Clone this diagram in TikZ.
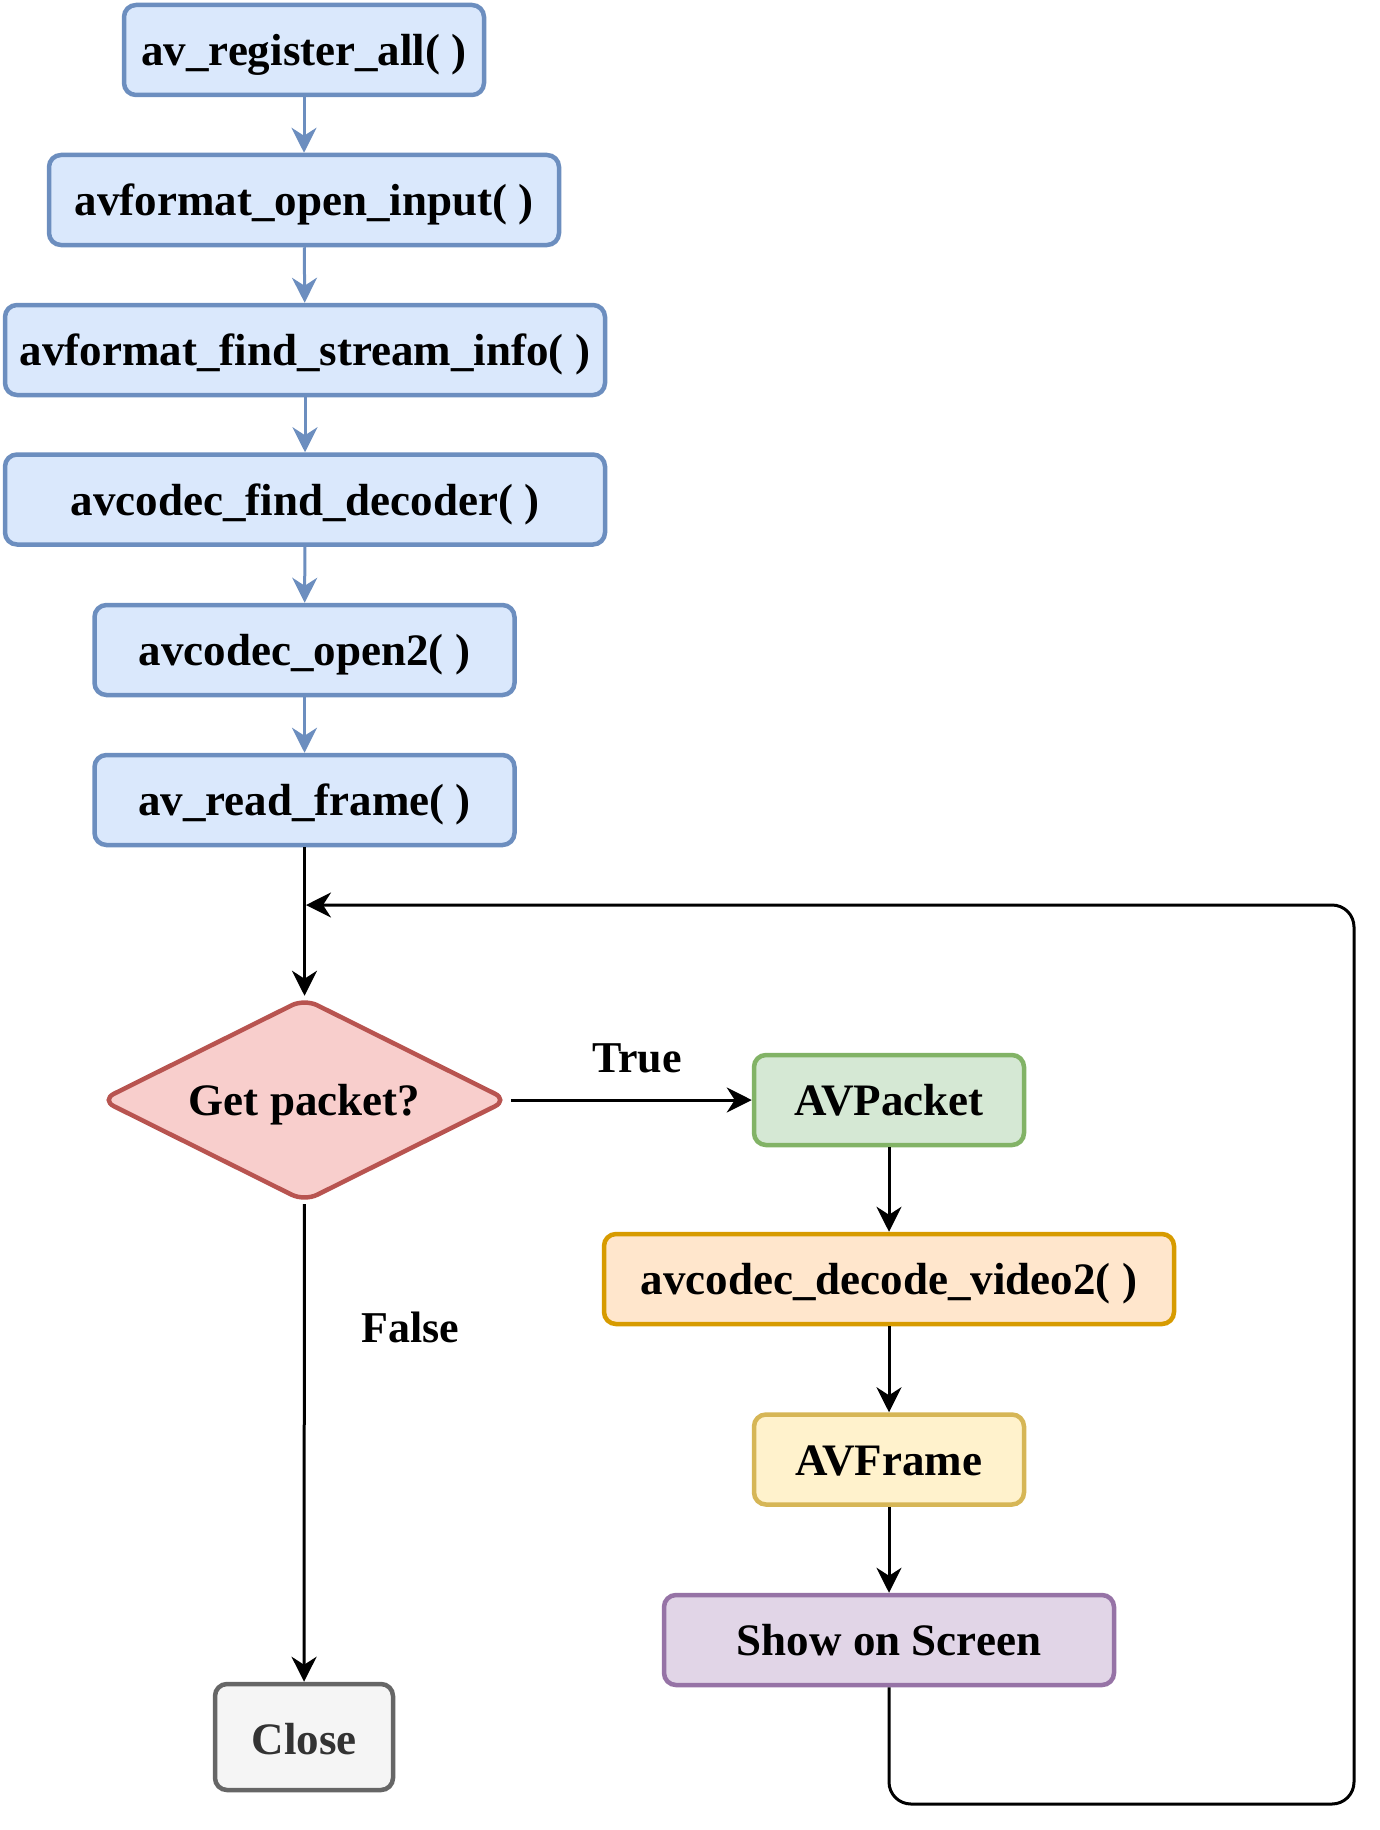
\documentclass[tikz,border=0pt]{standalone}
\usepackage{fontspec}
\setmainfont{Liberation Serif}
\usetikzlibrary{arrows.meta,shapes.geometric}
\definecolor{bluefill}{HTML}{DAE8FC}\definecolor{bluedraw}{HTML}{6C8EBF}
\definecolor{redfill}{HTML}{F8CECC}\definecolor{reddraw}{HTML}{B85450}
\definecolor{greenfill}{HTML}{D5E8D4}\definecolor{greendraw}{HTML}{82B366}
\definecolor{orangefill}{HTML}{FFE6CC}\definecolor{orangedraw}{HTML}{D79B00}
\definecolor{yellowfill}{HTML}{FFF2CC}\definecolor{yellowdraw}{HTML}{D6B656}
\definecolor{purplefill}{HTML}{E1D5E7}\definecolor{purpledraw}{HTML}{9673A6}
\definecolor{grayfill}{HTML}{F5F5F5}\definecolor{graydraw}{HTML}{666666}
\definecolor{graytext}{HTML}{333333}
\tikzset{
  box/.style={rectangle, rounded corners=12pt, line width=4.5pt, inner sep=0pt,
    minimum height=90pt, text height=31pt, text depth=0pt,
    font=\fontsize{45}{54}\selectfont\bfseries},
  bluebox/.style={box, draw=bluedraw, fill=bluefill},
  lbl/.style={inner sep=0pt, font=\fontsize{44}{52}\selectfont\bfseries},
  tipS/.tip={Stealth[length=25pt, width=25pt, inset=8pt]},
  blueconn/.style={draw=bluedraw, line width=3pt, -tipS},
  conn/.style={draw=black, line width=3pt, -tipS},
}
\begin{document}
\begin{tikzpicture}[x=1pt, y=-1pt]
\useasboundingbox (0,0) rectangle (1380,1830);
% left column
\node[bluebox, minimum width=360pt] (n1) at (304,50) {av\_register\_all( )};
\node[bluebox, minimum width=510pt] (n2) at (304,200) {avformat\_open\_input( )};
\node[bluebox, minimum width=600pt] (n3) at (305,350) {avformat\_find\_stream\_info( )};
\node[bluebox, minimum width=600pt] (n4) at (305,499.5) {avcodec\_find\_decoder( )};
\node[bluebox, minimum width=420pt] (n5) at (304.5,650) {avcodec\_open2( )};
\node[bluebox, minimum width=420pt] (n6) at (304.5,800) {av\_read\_frame( )};
\node[diamond, aspect=2, rounded corners=14pt, draw=reddraw, fill=redfill, line width=4.5pt,
  inner sep=0pt, minimum width=408pt, minimum height=204pt, text height=31pt, text depth=0pt,
  font=\fontsize{45}{54}\selectfont\bfseries] (dia) at (304.5,1100) {Get packet?};
\node[box, draw=graydraw, fill=grayfill, text=graytext, minimum width=178pt, minimum height=106pt, text height=34pt] (close) at (304,1737) {Close};
% right column
\node[box, draw=greendraw, fill=greenfill, minimum width=270pt] (pkt) at (889,1100) {AVPacket};
\node[box, draw=orangedraw, fill=orangefill, minimum width=570pt] (dec) at (889,1279) {avcodec\_decode\_video2( )};
\node[box, draw=yellowdraw, fill=yellowfill, minimum width=270pt] (frm) at (889,1459.5) {AVFrame};
\node[box, draw=purpledraw, fill=purplefill, minimum width=450pt] (show) at (889,1640) {Show on Screen};
% labels
\node[lbl, anchor=base] (ltrue) at (637,1072) {True};
\node[lbl, anchor=base] (lfalse) at (410,1342) {False};
% connectors
\draw[blueconn] (n1) -- (n2);
\draw[blueconn] (n2) -- (n3);
\draw[blueconn] (n3) -- (n4);
\draw[blueconn] (n4) -- (n5);
\draw[blueconn] (n5) -- (n6);
\draw[conn] (n6) -- (dia);
\draw[conn] (dia) -- (pkt);
\draw[conn] (dia) -- (close);
\draw[conn] (pkt) -- (dec);
\draw[conn] (dec) -- (frm);
\draw[conn] (frm) -- (show);
\coordinate (join) at (306,905);
\coordinate (c1) at (889,1804);
\coordinate (c2) at (1354,1804);
\coordinate (c3) at (1354,905);
\draw[conn, rounded corners=22pt] (show.south) -- (c1) -- (c2) -- (c3) -- (join);
\end{tikzpicture}
\end{document}
